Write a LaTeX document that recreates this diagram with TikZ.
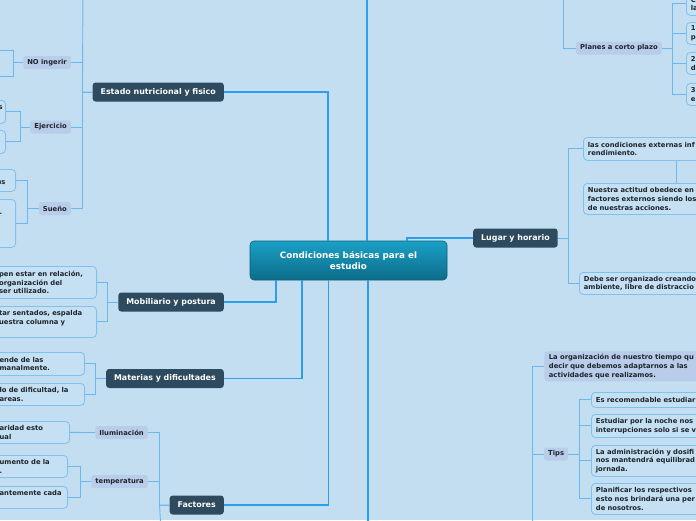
\documentclass[tikz,border=0pt]{standalone}
\usepackage{fontspec}
\setmainfont{DejaVu Sans}
\usepackage{xcolor}
\usepackage{tikz}
\definecolor{mapbackground}{HTML}{C3DEF1}
\definecolor{topicslate}{HTML}{2D4A5E}
\definecolor{subtopiclilac}{HTML}{B9CDEA}
\definecolor{leafline}{HTML}{7FC1EF}
\definecolor{leaffill}{HTML}{C6E0F3}
\definecolor{branchblue}{HTML}{2E9DEC}
\definecolor{twigblue}{HTML}{6BB8EE}
\definecolor{centertop}{HTML}{1AA0C6}
\definecolor{centerbottom}{HTML}{0C6C89}
\definecolor{centerline}{HTML}{0B5E78}
\definecolor{inkdark}{HTML}{1C252C}

\begin{document}
\begin{tikzpicture}[x=1pt,y=-1pt,
  central/.style={rectangle,rounded corners=4pt,draw=centerline,line width=0.6pt,top color=centertop,bottom color=centerbottom,text=white,font=\fontsize{8.8pt}{10.5pt}\selectfont\bfseries,align=center,minimum width=197pt,minimum height=39pt},
  topic/.style={rectangle,rounded corners=3pt,fill=topicslate,text=white,font=\fontsize{7.9pt}{9pt}\selectfont\bfseries,inner xsep=8pt,inner ysep=0pt,minimum height=19pt},
  subtopic/.style={rectangle,rounded corners=2.5pt,fill=subtopiclilac,text=inkdark,font=\fontsize{6.8pt}{8.7pt}\selectfont\bfseries,inner xsep=4pt,inner ysep=0pt,minimum height=13pt},
  leaf/.style={rectangle,rounded corners=4pt,draw=leafline,line width=0.8pt,fill=leaffill,text=inkdark,font=\fontsize{6.8pt}{8.7pt}\selectfont\bfseries,align=left,inner xsep=4.5pt,inner ysep=0pt},
  rleaf/.style={leaf,anchor=north west,text width=250pt},
  lleaf/.style={leaf,anchor=north east},
  trunk/.style={draw=branchblue,line width=1.4pt},
  twig/.style={draw=twigblue,line width=0.9pt}]
  \path[use as bounding box,fill=mapbackground] (0,0) rectangle (696,520);
  \clip (0,0) rectangle (696,520);

  \node[central] (center) at (348.5,260.5) {Condiciones básicas para el\\estudio};

  \node[topic,anchor=east] (estado) at (224,92) {Estado nutricional y fisico};
  \node[topic,anchor=east] (mobiliario) at (224,302) {Mobiliario y postura};
  \node[topic,anchor=east] (materias) at (224,378.5) {Materias y dificultades};
  \node[topic,anchor=east] (factores) at (224,505) {Factores};
  \node[topic,anchor=west] (lugar) at (473,238) {Lugar y horario};

  \node[subtopic,anchor=east] (noingerir) at (71,62.5) {NO ingerir};
  \node[subtopic,anchor=east] (ejercicio) at (71,127) {Ejercicio};
  \node[subtopic,anchor=east] (sueno) at (71,208.5) {Sueño};
  \node[subtopic,anchor=east] (iluminacion) at (148,432.5) {Iluminación};
  \node[subtopic,anchor=east] (temperatura) at (148,481.5) {temperatura};
  \node[subtopic,anchor=west] (planes) at (576,48) {Planes a corto plazo};
  \node[subtopic,anchor=west] (tips) at (544,454) {Tips};

  \node[lleaf,text width=2.5pt,minimum height=23pt] (ejercicioa) at (6,100) {s\\\mbox{}};
  \node[lleaf,text width=2.5pt,minimum height=23pt] (ejerciciob) at (6,130) {\mbox{}\\\mbox{}};
  \node[lleaf,text width=14.5pt,minimum height=22pt] (suenoa) at (16,169) {\mbox{}\\us};
  \node[lleaf,text width=11.5pt,minimum height=48pt] (suenob) at (16,199) {\mbox{}\\.\\\mbox{}\\\mbox{}\\\mbox{}};
  \node[lleaf,text width=93pt,minimum height=32pt] (mobiliarioa) at (97,266) {pen estar en relación,\\organización del\\ser utilizado.};
  \node[lleaf,text width=93pt,minimum height=31pt] (mobiliariob) at (97,306) {tar sentados, espalda\\uestra columna y\\\mbox{}};
  \node[lleaf,text width=80.5pt,minimum height=23pt] (materiasa) at (85,352) {ende de las\\manalmente.};
  \node[lleaf,text width=80.5pt,minimum height=22pt] (materiasb) at (85,383) {lo de dificultad, la\\areas.};
  \node[lleaf,text width=65.5pt,minimum height=22pt] (iluminaciona) at (70,421) {aridad esto\\ual};
  \node[lleaf,text width=63.5pt,minimum height=22pt] (temperaturaa) at (68,455) {umento de la\\.};
  \node[lleaf,text width=63.5pt,minimum height=22pt] (temperaturab) at (68,486) {antemente cada\\\mbox{}};

  \node[rleaf,minimum height=23pt] (planesa) at (686,-8) {C\\la};
  \node[rleaf,minimum height=22pt] (planesb) at (686,22) {1\\p};
  \node[rleaf,minimum height=22pt] (planesc) at (686,52) {2\\d};
  \node[rleaf,minimum height=22pt] (planesd) at (686,83) {3\\e};
  \node[rleaf,minimum height=23pt] (lugara) at (583,137) {las condiciones externas inf\\rendimiento.};
  \node[rleaf,minimum height=31pt] (lugarb) at (583,183) {Nuestra actitud obedece en\\factores externos siendo los\\de nuestras acciones.};
  \node[rleaf,minimum height=22pt] (lugarc) at (579,272) {Debe ser organizado creando\\ambiente, libre de distraccio};
  \node[rleaf,draw=none,fill=subtopiclilac,rounded corners=3pt,minimum height=30pt] (organizacion) at (544,351) {La organización de nuestro tiempo qu\\decir que debemos adaptarnos a las\\actividades que realizamos.};
  \node[rleaf,minimum height=15pt] (tipsa) at (591,392) {Es recomendable estudiar};
  \node[rleaf,minimum height=23pt] (tipsb) at (591,414) {Estudiar por la noche nos\\interrupciones solo si se v};
  \node[rleaf,minimum height=31pt] (tipsc) at (591,445) {La administración y dosifi\\nos mantendrá equilibrad\\jornada.};
  \node[rleaf,minimum height=31pt] (tipsd) at (591,483) {Planificar los respectivos\\esto nos brindará una per\\de nosotros.};

  \coordinate (stemup) at (367,-10);
  \coordinate (stemdown) at (368,530);
  \coordinate (estadoup) at (83,-10);
  \coordinate (factoresdown) at (161,530);
  \coordinate (planesup) at (563,-10);
  \coordinate (tipsdown) at (532,530);
  \coordinate (noingerira) at (-5,50);
  \coordinate (noingerirb) at (-5,76);

  \draw[trunk] ([xshift=-20.5pt]center.north) |- (estado.east);
  \draw[trunk] ([xshift=18.5pt]center.north) -- (stemup);
  \draw[trunk] ([xshift=58.5pt]center.north) |- (lugar.west);
  \draw[trunk] ([xshift=-72.5pt]center.south) |- (mobiliario.east);
  \draw[trunk] ([xshift=-46.5pt]center.south) |- (materias.east);
  \draw[trunk] ([xshift=-20pt]center.south) |- (factores.east);
  \draw[trunk] ([xshift=19.5pt]center.south) -- (stemdown);

  \foreach \kid in {noingerir,ejercicio,sueno}
    \draw[twig] (estado.west) -- ++(-10,0) |- (\kid.east);
  \draw[twig] (estado.west) -- ++(-10,0) -- (estadoup);
  \draw[twig] (noingerir.west) -- ++(-10,0) |- (noingerira);
  \draw[twig] (noingerir.west) -- ++(-10,0) |- (noingerirb);
  \foreach \kid in {ejercicioa,ejerciciob}
    \draw[twig] (ejercicio.west) -- ++(-10,0) |- (\kid.east);
  \foreach \kid in {suenoa,suenob}
    \draw[twig] (sueno.west) -- ++(-11,0) |- (\kid.east);
  \foreach \kid in {mobiliarioa,mobiliariob}
    \draw[twig] (mobiliario.west) -- ++(-11,0) |- (\kid.east);
  \foreach \kid in {materiasa,materiasb}
    \draw[twig] (materias.west) -- ++(-10,0) |- (\kid.east);
  \foreach \kid in {iluminacion,temperatura}
    \draw[twig] (factores.west) -- ++(-10,0) |- (\kid.east);
  \draw[twig] (factores.west) -- ++(-10,0) -- (factoresdown);
  \draw[twig] (iluminacion.west) -- (iluminaciona.east);
  \foreach \kid in {temperaturaa,temperaturab}
    \draw[twig] (temperatura.west) -- ++(-11,0) |- (\kid.east);

  \foreach \kid in {lugara,lugarc}
    \draw[twig] (lugar.east) -- ++(11,0) |- (\kid.west);
  \draw[twig] ([xshift=93pt]lugara.south west) -- ([xshift=93pt]lugarb.north west);
  \draw[twig] (planes.west) -| (planesup);
  \foreach \kid in {planesa,planesb,planesc,planesd}
    \draw[twig] (planes.east) -- ++(11,0) |- (\kid.west);
  \draw[twig] (tipsdown) |- (organizacion.west);
  \draw[twig] (tipsdown) |- (tips.west);
  \foreach \kid in {tipsa,tipsb,tipsc,tipsd}
    \draw[twig] (tips.east) -- ++(11,0) |- (\kid.west);
\end{tikzpicture}
\end{document}
